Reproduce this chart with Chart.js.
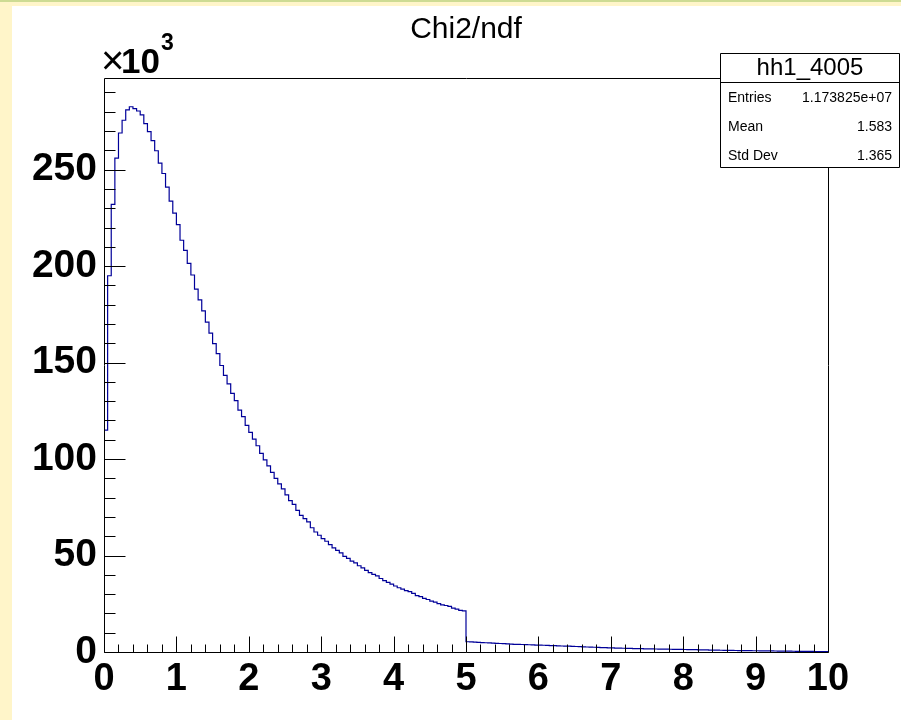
<!DOCTYPE html>
<html lang="en">
<head>
<meta charset="UTF-8">
<title>Chi2/ndf</title>
<script src="https://cdn.jsdelivr.net/npm/chart.js@4.4.1/dist/chart.umd.min.js"></script>
<style>
  html, body { margin: 0; padding: 0; }
  body { width: 901px; height: 720px; background: #fff5c9; position: relative; overflow: hidden; }
  #topline { position: absolute; left: 0; top: 0; width: 901px; height: 2px; background: #cddb93; }
  #pad { position: absolute; left: 12px; top: 6px; width: 889px; height: 714px; background: #fff; }
  #chart { position: absolute; left: 0; top: 0; }
</style>
</head>
<body>
<div id="topline"></div>
<div id="pad"></div>
<canvas id="chart" width="901" height="720"></canvas>
<script>
// histogram hh1_4005, 200 bins of 0.05 from 0 to 10, contents in units of 10^3
const binWidth = 0.05;
const counts0to1 = [115, 195, 232, 256, 269, 275.6, 281, 282.6, 281.6, 280.4,
                    278.4, 273.9, 269.7, 265, 259.8, 253.4, 248, 240.9, 233.7, 227.5];
const counts1to2 = [221.5, 213.4, 208.2, 201.4, 195.4, 188.1, 182.5, 176.8, 171, 165.3,
                    159.8, 154.6, 148.5, 143.4, 139, 134, 130.3, 125.4, 122, 117.5];
const counts2to3 = [113.8, 110.3, 106.9, 102.9, 99.6, 96.5, 93.1, 90, 87.1, 84.5,
                    81.4, 78.5, 76.5, 73.4, 70.8, 69.1, 67.4, 64.4, 62.2, 60.5];
const counts3to4 = [58.8, 57.4, 55.7, 54, 52.7, 51.4, 49.6, 48.5, 47.1, 46.2,
                    44.7, 43.6, 42.3, 41.1, 40.2, 39.5, 38.1, 37, 36.1, 35.2];
const counts4to5 = [34.2, 33.3, 32.6, 31.8, 31.3, 30.4, 29.2, 28.7, 27.8, 27.2,
                    26.4, 25.8, 25.1, 24.4, 24.1, 23.6, 22.7, 22.2, 21.6, 21.3];
const counts5to6 = [5.3, 5.2, 5.1, 5.0, 4.9, 4.8, 4.7, 4.6, 4.5, 4.4,
                    4.3, 4.2, 4.1, 4.0, 3.95, 3.9, 3.8, 3.75, 3.7, 3.6];
const counts6to7 = [3.55, 3.5, 3.4, 3.35, 3.3, 3.2, 3.1, 3.05, 3.0, 2.9,
                    2.85, 2.75, 2.7, 2.6, 2.55, 2.45, 2.4, 2.3, 2.25, 2.15];
const counts7to8 = [2.1, 2.05, 2.0, 1.95, 1.9, 1.85, 1.8, 1.75, 1.7, 1.65,
                    1.6, 1.58, 1.55, 1.5, 1.48, 1.45, 1.42, 1.4, 1.37, 1.35];
const counts8to9 = [1.3, 1.27, 1.23, 1.2, 1.15, 1.1, 1.05, 1.0, 0.97, 0.93,
                    0.9, 0.87, 0.83, 0.8, 0.77, 0.75, 0.72, 0.7, 0.68, 0.66];
const counts9to10 = [0.64, 0.62, 0.6, 0.57, 0.55, 0.52, 0.5, 0.47, 0.45, 0.42,
                     0.4, 0.37, 0.35, 0.32, 0.3, 0.28, 0.26, 0.24, 0.2, 0.18];

const xTicks = [0, 1, 2, 3, 4, 5, 6, 7, 8, 9, 10];
const yTicks = [0, 50, 100, 150, 200, 250];
const xMinorStep = 0.2;
const yMinorStep = 10;
const xMax = 10;
const yMax = 297.5;

const statsTitle = "hh1_4005";
const statsLabels = ["Entries", "Mean", "Std Dev"];
const statsValues = ["1.173825e+07", "1.583", "1.365"];

const fontFamily = "'Liberation Sans', Arial, Helvetica, sans-serif";

const counts = [].concat(counts0to1, counts1to2, counts2to3, counts3to4, counts4to5,
                         counts5to6, counts6to7, counts7to8, counts8to9, counts9to10);
const points = [{x: 0, y: 0}];
counts.forEach((c, i) => points.push({x: i * binWidth, y: c}));
points.push({x: xMax, y: 0});

// ROOT-like frame: box, inward ticks, x10^3 and the stats box
const rootFrame = {
  id: 'rootFrame',
  afterDraw(chart) {
    const {ctx, chartArea: a} = chart;
    const sx = chart.scales.x, sy = chart.scales.y;
    const L = Math.round(a.left) + 0.5, B = Math.round(a.bottom) + 0.5;
    ctx.save();
    ctx.strokeStyle = '#000';
    ctx.lineWidth = 1;
    ctx.beginPath();
    ctx.rect(L, Math.round(a.top) + 0.5, Math.round(a.right - a.left), Math.round(a.bottom - a.top));
    const nx = Math.round(xMax / xMinorStep);
    for (let i = 0; i <= nx; i++) {
      const v = i * xMinorStep;
      const px = Math.round(sx.getPixelForValue(v)) + 0.5;
      const len = (i % 5 === 0) ? 16 : 8;
      ctx.moveTo(px, B);
      ctx.lineTo(px, B - len);
    }
    for (let v = 0; v < yMax; v += yMinorStep) {
      const py = Math.round(sy.getPixelForValue(v)) + 0.5;
      const len = (v % 50 === 0) ? 21 : 11;
      ctx.moveTo(L, py);
      ctx.lineTo(L + len, py);
    }
    ctx.stroke();

    // x10^3 exponent label
    ctx.fillStyle = '#000';
    ctx.textBaseline = 'alphabetic';
    ctx.textAlign = 'left';
    ctx.font = `40px ${fontFamily}`;
    ctx.fillText('\u00d7', a.left - 3, 74);
    ctx.font = `bold 35px ${fontFamily}`;
    ctx.fillText('10', a.left + 17, 73);
    ctx.font = `bold 23px ${fontFamily}`;
    ctx.fillText('3', a.left + 57, 50);

    // stats box
    const bx = 720.5, by = 53.5, bw = 179, bh = 114;
    ctx.fillStyle = '#fff';
    ctx.fillRect(bx, by, bw, bh);
    ctx.beginPath();
    ctx.rect(bx, by, bw, bh);
    ctx.moveTo(bx, 82.5);
    ctx.lineTo(bx + bw, 82.5);
    ctx.stroke();
    ctx.fillStyle = '#000';
    ctx.textBaseline = 'middle';
    ctx.textAlign = 'center';
    ctx.font = `24px ${fontFamily}`;
    ctx.fillText(statsTitle, bx + bw / 2, 68.5);
    ctx.font = `14px ${fontFamily}`;
    statsLabels.forEach((lab, i) => {
      const ty = 98 + i * 29;
      ctx.textAlign = 'left';
      ctx.fillText(lab, 728, ty);
      ctx.textAlign = 'right';
      ctx.fillText(statsValues[i], 892, ty);
    });
    ctx.restore();
  }
};

new Chart(document.getElementById('chart'), {
  type: 'line',
  data: {
    datasets: [{
      data: points,
      stepped: 'before',
      borderColor: '#000099',
      borderWidth: 1.2,
      pointRadius: 0,
      fill: false,
      tension: 0
    }]
  },
  options: {
    responsive: false,
    animation: false,
    devicePixelRatio: 1,
    layout: { padding: { left: 0, right: 73, top: 0, bottom: 0 } },
    plugins: {
      legend: { display: false },
      tooltip: { enabled: false },
      title: {
        display: true,
        text: 'Chi2/ndf',
        color: '#000',
        fullSize: false,
        font: { family: fontFamily, size: 30, weight: 'normal' },
        padding: { top: 12, bottom: 30 }
      }
    },
    scales: {
      x: {
        type: 'linear',
        min: 0,
        max: xMax,
        afterBuildTicks: s => { s.ticks = xTicks.map(v => ({value: v})); },
        afterFit: s => { s.height = 68; },
        grid: { display: false, drawTicks: false },
        border: { display: false },
        ticks: {
          color: '#000',
          padding: 5,
          maxRotation: 0,
          autoSkip: false,
          font: { family: fontFamily, size: 38, weight: 'bold' }
        }
      },
      y: {
        type: 'linear',
        min: 0,
        max: yMax,
        afterBuildTicks: s => { s.ticks = yTicks.map(v => ({value: v})); },
        afterFit: s => { s.width = 104; },
        grid: { display: false, drawTicks: false },
        border: { display: false },
        ticks: {
          color: '#000',
          padding: 7,
          autoSkip: false,
          font: { family: fontFamily, size: 39, weight: 'bold' }
        }
      }
    }
  },
  plugins: [rootFrame]
});
</script>
</body>
</html>
